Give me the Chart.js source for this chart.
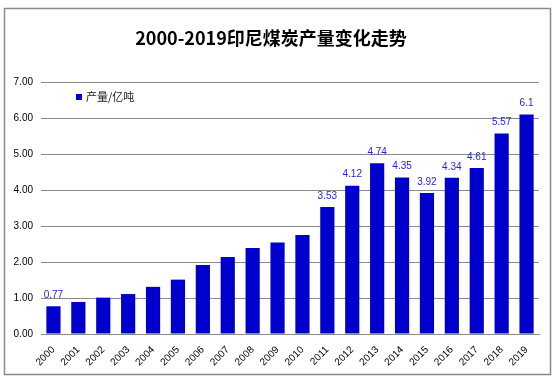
<!DOCTYPE html>
<html>
<head>
<meta charset="utf-8">
<script src="https://cdn.jsdelivr.net/npm/chart.js@4/dist/chart.umd.min.js"></script>
<style>
html,body{margin:0;padding:0;background:#fff;}
#wrap{position:relative;width:556px;height:383px;}
</style>
</head>
<body>
<div id="wrap"><canvas id="c" width="556" height="383"></canvas></div>
<script>
const titleText = '2000-2019印尼煤炭产量变化走势';
const seriesName = '产量/亿吨';
const years = ['2000','2001','2002','2003','2004','2005','2006','2007','2008','2009','2010','2011','2012','2013','2014','2015','2016','2017','2018','2019'];
const output = [0.77,0.89,1.01,1.11,1.31,1.51,1.92,2.14,2.39,2.54,2.75,3.53,4.12,4.74,4.35,3.92,4.34,4.61,5.57,6.1];
const labelled = ['2000','2011','2012','2013','2014','2015','2016','2017','2018','2019'];
const yTicks = [0,1,2,3,4,5,6,7];

const frameAndText = {
  id: 'frameAndText',
  afterDraw(chart) {
    const ctx = chart.ctx;
    ctx.save();
    ctx.strokeStyle = '#8a8a8a';
    ctx.lineWidth = 1.5;
    ctx.strokeRect(4.5, 8.5, 546, 366);
    ctx.fillStyle = '#000';
    ctx.font = 'bold 18px "Noto Sans CJK SC", "DejaVu Sans", sans-serif';
    ctx.textAlign = 'center';
    ctx.textBaseline = 'middle';
    ctx.fillText(titleText, 271, 38);
    // legend
    ctx.fillStyle = '#0000cc';
    ctx.fillRect(76, 94, 6, 6);
    ctx.fillStyle = '#222';
    ctx.font = '11px "Noto Sans CJK SC", sans-serif';
    ctx.textAlign = 'left';
    ctx.fillText(seriesName, 86, 97);
    // data labels
    const meta = chart.getDatasetMeta(0);
    ctx.fillStyle = '#2222ee';
    ctx.font = '10px "Liberation Sans", sans-serif';
    ctx.textAlign = 'center';
    ctx.textBaseline = 'bottom';
    meta.data.forEach((bar, i) => {
      if (labelled.includes(years[i])) {
        ctx.fillText(String(output[i]), bar.x, bar.y - 6);
      }
    });
    ctx.restore();
  }
};

new Chart(document.getElementById('c'), {
  type: 'bar',
  data: {
    labels: years,
    datasets: [{
      label: seriesName,
      data: output,
      backgroundColor: '#0000cc',
      barPercentage: 0.57,
      categoryPercentage: 1.0
    }]
  },
  options: {
    responsive: false,
    animation: false,
    devicePixelRatio: 1,
    layout: { padding: { left: 0, top: 82, right: 17, bottom: 0 } },
    plugins: { legend: { display: false }, title: { display: false }, tooltip: { enabled: false } },
    scales: {
      x: {
        grid: { display: false },
        border: { display: true, color: '#8a8a8a', width: 1 },
        ticks: {
          color: '#000',
          font: { family: '"Liberation Sans", sans-serif', size: 10 },
          minRotation: 45, maxRotation: 45,
          padding: 2
        },
        afterFit(s) { s.height = 49; }
      },
      y: {
        min: 0, max: 7,
        afterBuildTicks(s) { s.ticks = yTicks.map(v => ({ value: v })); },
        grid: { color: '#8a8a8a', lineWidth: 1, drawTicks: false },
        border: { display: false },
        ticks: {
          color: '#000',
          padding: 8,
          font: { family: '"Liberation Sans", sans-serif', size: 10 },
          callback: v => Number(v).toFixed(2)
        },
        afterFit(s) { s.width = 41; }
      }
    }
  },
  plugins: [frameAndText]
});
</script>
</body>
</html>
